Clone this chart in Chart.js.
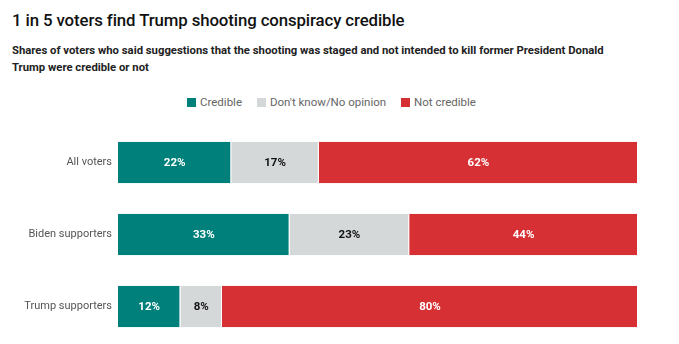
<!DOCTYPE html>
<html>
<head>
<meta charset="utf-8">
<script src="https://cdn.jsdelivr.net/npm/chart.js@4/dist/chart.umd.min.js"></script>
<style>
  body { margin: 0; background: #fff; font-family: Roboto, "Open Sans", sans-serif; }
  #wrap { position: relative; width: 679px; height: 344px; overflow: hidden; }
  h1 { position: absolute; left: 12px; top: 10px; margin: 0; font-size: 16.8px; font-weight: 500; color: #111; letter-spacing: -0.1px; }
  .sub { position: absolute; left: 12px; top: 42px; width: 610px; margin: 0; font-size: 11.3px; font-weight: 700; line-height: 17px; color: #222; }
  .legend { position: absolute; top: 95px; font-size: 11.5px; color: #666; white-space: nowrap; }
  .legend span.sw { display: inline-block; width: 9px; height: 9px; margin-right: 4px; vertical-align: -1px; }
  #myChart { position: absolute; left: 0; top: 120px; }
</style>
</head>
<body>
<div id="wrap">
  <h1>1 in 5 voters find Trump shooting conspiracy credible</h1>
  <p class="sub">Shares of voters who said suggestions that the shooting was staged and not intended to kill former President Donald Trump were credible or not</p>
  <div class="legend" style="left:187px"><span class="sw" style="background:#00807a"></span>Credible</div>
  <div class="legend" style="left:257px"><span class="sw" style="background:#d5d8d8"></span>Don't know/No opinion</div>
  <div class="legend" style="left:401px"><span class="sw" style="background:#d63035"></span>Not credible</div>
  <canvas id="myChart" width="679" height="229"></canvas>
</div>
<script>
const groups = ['All voters', 'Biden supporters', 'Trump supporters']
const credible = [22, 33, 12]
const dontKnow = [17, 23, 8]
const notCredible = [62, 44, 80]

// bars are drawn as shares of each row's total (All voters rounds to 101)
const totals = groups.map((g, i) => credible[i] + dontKnow[i] + notCredible[i])
function share(arr){ return arr.map((v, i) => v / totals[i] * 100) }

const barLabels = {
  id: 'barLabels',
  afterDatasetsDraw(chart){
    const ctx = chart.ctx
    ctx.save()
    ctx.font = 'bold 11.5px Roboto, sans-serif'
    ctx.textAlign = 'center'
    ctx.textBaseline = 'middle'
    chart.data.datasets.forEach((ds, di) => {
      chart.getDatasetMeta(di).data.forEach((bar, i) => {
        const left = Math.min(bar.x, bar.base), right = Math.max(bar.x, bar.base)
        ctx.fillStyle = ds.textColor
        ctx.fillText(ds.raw[i] + '%', (left + right) / 2, bar.y + 1)
      })
    })
    ctx.restore()
  }
}

const data = {
  labels: groups,
  datasets: [
    { label: 'Credible', raw: credible, data: share(credible), backgroundColor: '#00807a', textColor: '#fff' },
    { label: "Don't know/No opinion", raw: dontKnow, data: share(dontKnow), backgroundColor: '#d5d8d8', textColor: '#111' },
    { label: 'Not credible', raw: notCredible, data: share(notCredible), backgroundColor: '#d63035', textColor: '#fff' }
  ]
}
data.datasets.forEach(ds => {
  ds.borderColor = '#fff'
  ds.borderWidth = { left: 0, right: 1, top: 0, bottom: 0 }
  ds.borderSkipped = false
  ds.categoryPercentage = 1
  ds.barPercentage = 0.577
})

const config = {
  type: 'bar',
  data: data,
  options: {
    indexAxis: 'y',
    responsive: false,
    animation: false,
    layout: { padding: { top: 0, bottom: 0, right: 41, left: 0 } },
    scales: {
      x: { stacked: true, min: 0, max: 100, display: false },
      y: {
        stacked: true,
        grid: { display: false, drawTicks: true, tickLength: 6 },
        border: { display: false },
        ticks: { color: '#555', padding: 0, font: { family: 'Roboto', size: 11 } },
        afterFit: s => { s.width = 118 }
      }
    },
    plugins: {
      legend: { display: false },
      tooltip: { enabled: false }
    }
  },
  plugins: [barLabels]
}

const myChart = new Chart(document.getElementById('myChart'), config)
</script>
</body>
</html>
